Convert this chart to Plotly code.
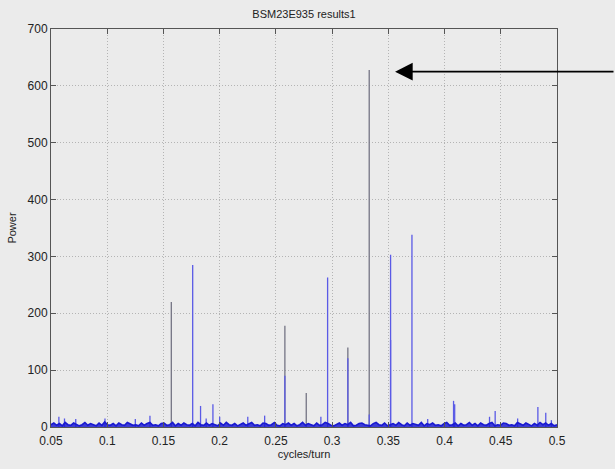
import numpy as np
import plotly.graph_objects as go

# Baseline noise
base = [4,7,3,6,2,8,4,3,7,5,2,4,8,3,6,4,2,7,3,9,4,3,6,2,7,4,3,8,5,3,
        4,2,7,3,6,8,3,4,2,6,7,3,4,8,2,6,3,7,4,3,6,2,8,4,3,7,3,6,4,2,
        7,3,8,4,3,6,2,4,7,3,6,8,3,4,2,7,6,3,4,8,3,2,6,4,7,3,6,2,4,8,
        3,6,4,2,7,3,4,8,6,3,2,4,7,3,6,4,8,2,3,6,7,4,3,2,6,8,4,3,7,2,
        4,6,3,8,4,2,7,3,6,4,3,8,2,6,4,7,3,4,2,6,8,3,4,7,2,6,3,4,8,3,
        6,2,7,4,3,6,8,2,4,3,7,6,3,4,2,8,6,3,7,4,2,6,3,8,4,7,3,6,2,4]

# Blue peaks (cycles/turn, power)
blue_x = [0.057,0.062,0.072,0.098,0.125,0.138,0.176,0.183,0.188,0.194,0.200,0.225,0.240,
          0.258,0.290,0.296,0.314,0.333,0.352,0.352,0.371,0.385,0.408,0.409,0.440,0.445,
          0.465,0.483,0.490,0.495]
blue_y = [18,15,14,15,14,20,285,37,15,40,18,18,20,
          90,18,263,121,22,303,153,338,14,46,40,18,28,15,35,25,12]

# Gray peaks
gray_x = [0.157,0.258,0.277,0.314,0.333]
gray_y = [220,178,60,140,628]

x_ticks = [0.05,0.1,0.15,0.2,0.25,0.3,0.35,0.4,0.45,0.5]
y_ticks = [0,100,200,300,400,500,600,700]

bx = np.linspace(0.05, 0.5, len(base))

def stems(xs, ys):
    X, Y = [], []
    for a, b in zip(xs, ys):
        X += [a, a, None]
        Y += [0, b, None]
    return X, Y

fig = go.Figure()
gx, gy = stems(gray_x, gray_y)
fig.add_trace(go.Scatter(x=gx, y=gy, mode="lines", line=dict(color="#747484", width=1.3),
                         hoverinfo="skip", showlegend=False))
sx, sy = stems(blue_x, blue_y)
fig.add_trace(go.Scatter(x=sx, y=sy, mode="lines", line=dict(color="#5a5ae6", width=1.3),
                         hoverinfo="skip", showlegend=False))
fig.add_trace(go.Scatter(x=bx, y=base, mode="lines", line=dict(color="#1a1ad0", width=1.6),
                         fill="tozeroy", fillcolor="rgba(30,30,210,0.85)",
                         hoverinfo="skip", showlegend=False))

font = dict(family="Liberation Sans, Arial, sans-serif", size=12, color="#222222")

axis_common = dict(showgrid=True, gridcolor="#b4b4b4", griddash="1px,2px", gridwidth=1,
                   ticks="inside", ticklen=5, tickcolor="#555555", mirror="allticks",
                   showline=True, linecolor="#555555", linewidth=1, zeroline=False,
                   tickfont=dict(size=12))

fig.update_layout(
    width=615, height=469,
    margin=dict(l=47, r=58, t=29, b=38),
    paper_bgcolor="#ebebeb", plot_bgcolor="#ebebeb",
    font=font,
    title=dict(text="BSM23E935 results1", x=0.5, xref="paper", y=1, yref="container",
               yanchor="top", pad=dict(t=10), font=dict(size=11, family=font["family"])),
    xaxis=dict(range=[0.05, 0.5], tickvals=x_ticks, ticktext=[("%g" % v) for v in x_ticks],
               ticklabelstandoff=3,
               title=dict(text="cycles/turn", standoff=1, font=dict(size=11)),
               **axis_common),
    yaxis=dict(range=[0, 700], tickvals=y_ticks,
               title=dict(text="Power", standoff=8, font=dict(size=11)),
               **axis_common),
)

fig.add_annotation(x=0.356, y=625, xref="x", yref="y", ax=220, ay=0,
                   showarrow=True, arrowhead=2, arrowsize=2.2, arrowwidth=1.6,
                   arrowcolor="#000000", text="")

fig.write_html("out.html")
